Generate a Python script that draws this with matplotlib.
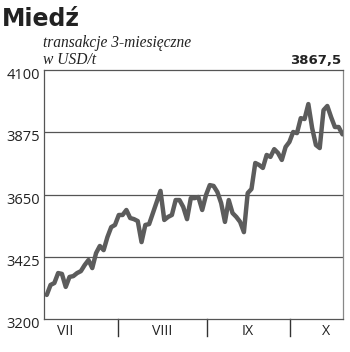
import numpy as np
import matplotlib
matplotlib.use('Agg')
import matplotlib.pyplot as plt
from matplotlib import transforms

# ceny miedzi, transakcje 3-miesieczne (USD/t), kolejne sesje lip-paz
prices = [3287, 3323, 3330, 3366, 3363, 3316, 3352, 3355, 3366, 3373,
          3395, 3413, 3384, 3438, 3464, 3449, 3496, 3532, 3540, 3576,
          3576, 3594, 3565, 3561, 3554, 3478, 3540, 3543, 3583, 3623,
          3663, 3558, 3569, 3576, 3630, 3630, 3605, 3561, 3637, 3637,
          3641, 3594, 3648, 3684, 3681, 3659, 3619, 3551, 3630, 3583,
          3569, 3551, 3514, 3655, 3670, 3764, 3757, 3746, 3793, 3786,
          3814, 3800, 3775, 3822, 3840, 3876, 3872, 3926, 3923, 3977,
          3890, 3829, 3818, 3955, 3970, 3930, 3894, 3894, 3867.5]
month_labels = ['VII', 'VIII', 'IX', 'X']
month_label_pos = [4.9, 30.4, 53.1, 73.6]
month_breaks = [18.7, 42.3, 64.2]
y_ticks = [3200, 3425, 3650, 3875, 4100]
last_value = '3867,5'

x = np.arange(len(prices))

fig = plt.figure(figsize=(3.5, 3.52), dpi=100)
ax = fig.add_axes([0.1257, 0.0938, 0.8543, 0.7072])

grid_c = '#555555'
for v in y_ticks[1:-1]:
    ax.axhline(v, color=grid_c, lw=0.9, zorder=1)

ax.plot(x, prices, color='#5c5c5c', lw=3.2, solid_joinstyle='round',
        solid_capstyle='round', zorder=3)

ax.set_xlim(-0.73, len(prices) - 1 + 0.14)
ax.set_ylim(3200, 4100)
for s in ['left', 'bottom', 'top']:
    ax.spines[s].set_color(grid_c)
    ax.spines[s].set_linewidth(0.9)
ax.spines['right'].set_color('#888888')
ax.spines['right'].set_linewidth(0.9)

ax.set_yticks(y_ticks)
ax.set_yticklabels([str(v) for v in y_ticks], fontsize=10.5,
                   family='Open Sans', color='#222222')
ax.tick_params(axis='y', length=0, pad=3)
off = transforms.ScaledTranslation(0, -3.5 / 100, fig.dpi_scale_trans)
for lab in ax.get_yticklabels():
    lab.set_transform(lab.get_transform() + off)

ax.set_xticks(month_label_pos)
ax.set_xticklabels(month_labels, fontsize=10.2, family='Open Sans',
                   color='#222222')
ax.tick_params(axis='x', length=0, pad=3.5)
for b in month_breaks:
    ax.plot([b, b], [0, -0.07], transform=ax.get_xaxis_transform(),
            color='#333333', lw=1.0, clip_on=False)

fig.text(0.006, 0.925, 'Miedź', fontsize=17, fontweight='bold',
         family='DejaVu Sans', color='#222222')
fig.text(0.123, 0.866, 'transakcje 3-miesięczne', fontsize=11.2,
         style='italic', family='Liberation Serif', color='#222222')
fig.text(0.123, 0.818, 'w USD/t', fontsize=11.2, style='italic',
         family='Liberation Serif', color='#222222')
fig.text(0.975, 0.818, last_value, fontsize=9.5, fontweight='bold',
         ha='right', family='DejaVu Sans', color='#222222')

fig.savefig('out.png', dpi=100)
